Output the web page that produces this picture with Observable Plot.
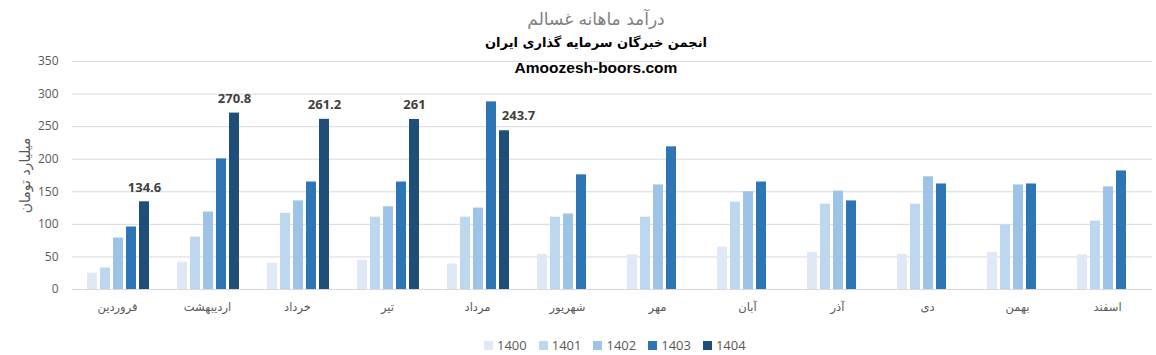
<!DOCTYPE html>
<html><head><meta charset="utf-8">
<script src="https://cdn.jsdelivr.net/npm/d3@7"></script>
<script src="https://cdn.jsdelivr.net/npm/@observablehq/plot@0.6"></script>
<style>
body{margin:0;background:#fff;width:1156px;height:355px;overflow:hidden;position:relative;font-family:"Open Sans","DejaVu Sans",sans-serif}
#head{position:relative;height:52px}
.t{position:absolute;left:0;width:1192px;text-align:center;white-space:nowrap}
#title{top:7px;font-size:17px;line-height:24px;color:#808080;font-family:"DejaVu Sans",sans-serif}
#sub{top:34px;font-size:13px;line-height:18px;font-weight:bold;color:#000;font-family:"DejaVu Sans",sans-serif}
#site{top:58px;font-size:15.5px;line-height:19px;font-weight:bold;color:#000;font-family:"Liberation Sans",Arial,sans-serif;z-index:2}
#chart{position:absolute;top:52px;left:0}
#legend{position:absolute;top:336px;left:484px;display:flex;font-size:13px;color:#595959;line-height:18px}
#legend .it{display:flex;align-items:center;margin-right:12px}
#legend .sw{width:9px;height:9px;margin-right:4px}
</style></head>
<body>
<div id="head">
  <div class="t" id="title">درآمد ماهانه غسالم</div>
  <div class="t" id="sub">انجمن خبرگان سرمایه گذاری ایران</div>
</div>
<div class="t" id="site">Amoozesh-boors.com</div>
<div id="chart"></div>
<div id="legend"></div>
<script>
const months = ["فروردین","اردیبهشت","خرداد","تیر","مرداد","شهریور","مهر","آبان","آذر","دی","بهمن","اسفند"];
const years = ["1400","1401","1402","1403","1404"];
const v1400 = [25,42,40.5,45,39,54,53,65,57,54,57,53];
const v1401 = [33,80.5,117,111,111,111,111,134,131,131,99,105];
const v1402 = [79,119,136,127,125,116,160.5,150,151,173,160.5,157.5];
const v1403 = [96,200.5,165,165,288,176,219,165,136,162,162,182];
const v1404 = [134.6,270.8,261.2,261,243.7,null,null,null,null,null,null,null];
const colors = ["#dee9f5","#bdd7ee","#9dc3e6","#2e75b6","#1f4e79"];
const yTicks = [0,50,100,150,200,250,300,350];
const yTitle = "میلیارد تومان";

const series = [v1400,v1401,v1402,v1403,v1404];
const data = [];
months.forEach((m,i)=>series.forEach((s,j)=>{ if(s[i]!=null) data.push({month:m,year:years[j],value:s[i]}); }));
const lbl = data.filter(d=>d.year==="1404");

const chart = Plot.plot({
  width:1156, height:278, marginLeft:72, marginRight:4, marginTop:9, marginBottom:41,
  fx:{domain:months, padding:0, label:null},
  x:{domain:years, paddingInner:0.21, paddingOuter:0, insetLeft:13, insetRight:11, axis:null},
  y:{domain:[0,350]},
  color:{domain:years, range:colors},
  style:{fontFamily:"'Open Sans','DejaVu Sans',sans-serif", color:"#595959", background:"transparent"},
  marks:[
    Plot.gridY(yTicks,{stroke:"#d9d9d9", strokeOpacity:1}),
    Plot.axisY(yTicks,{tickSize:0, tickPadding:14, fontSize:12, label:null}),
    Plot.axisY([],{tickSize:0, label:yTitle, labelAnchor:"center", labelArrow:"none", labelOffset:52, fontSize:14, fontFamily:"'DejaVu Sans',sans-serif"}),
    Plot.axisFx({anchor:"bottom", tickSize:0, tickPadding:13, fontSize:11.5, label:null, fontFamily:"'DejaVu Sans',sans-serif"}),
    Plot.barY(data,{fx:"month", x:"year", y:"value", fill:"year"}),
    Plot.ruleY([0],{stroke:"#d9d9d9"}),
    Plot.text(lbl.filter(d=>d.month!=="مرداد"),{fx:"month", x:"year", y:"value", text:d=>String(d.value), lineAnchor:"bottom", dy:-10, fontWeight:"bold", fontSize:13, fill:"#404040"}),
    Plot.text(lbl.filter(d=>d.month==="مرداد"),{fx:"month", x:"year", y:"value", text:d=>String(d.value), lineAnchor:"bottom", dy:-11, dx:14, fontWeight:"bold", fontSize:13, fill:"#404040"})
  ]
});
document.getElementById("chart").appendChild(chart);

const lg = document.getElementById("legend");
years.forEach((y,i)=>{
  const it = document.createElement("div"); it.className="it";
  const sw = document.createElement("div"); sw.className="sw"; sw.style.background=colors[i];
  const tx = document.createElement("span"); tx.textContent=y;
  it.appendChild(sw); it.appendChild(tx); lg.appendChild(it);
});
</script>
</body></html>
